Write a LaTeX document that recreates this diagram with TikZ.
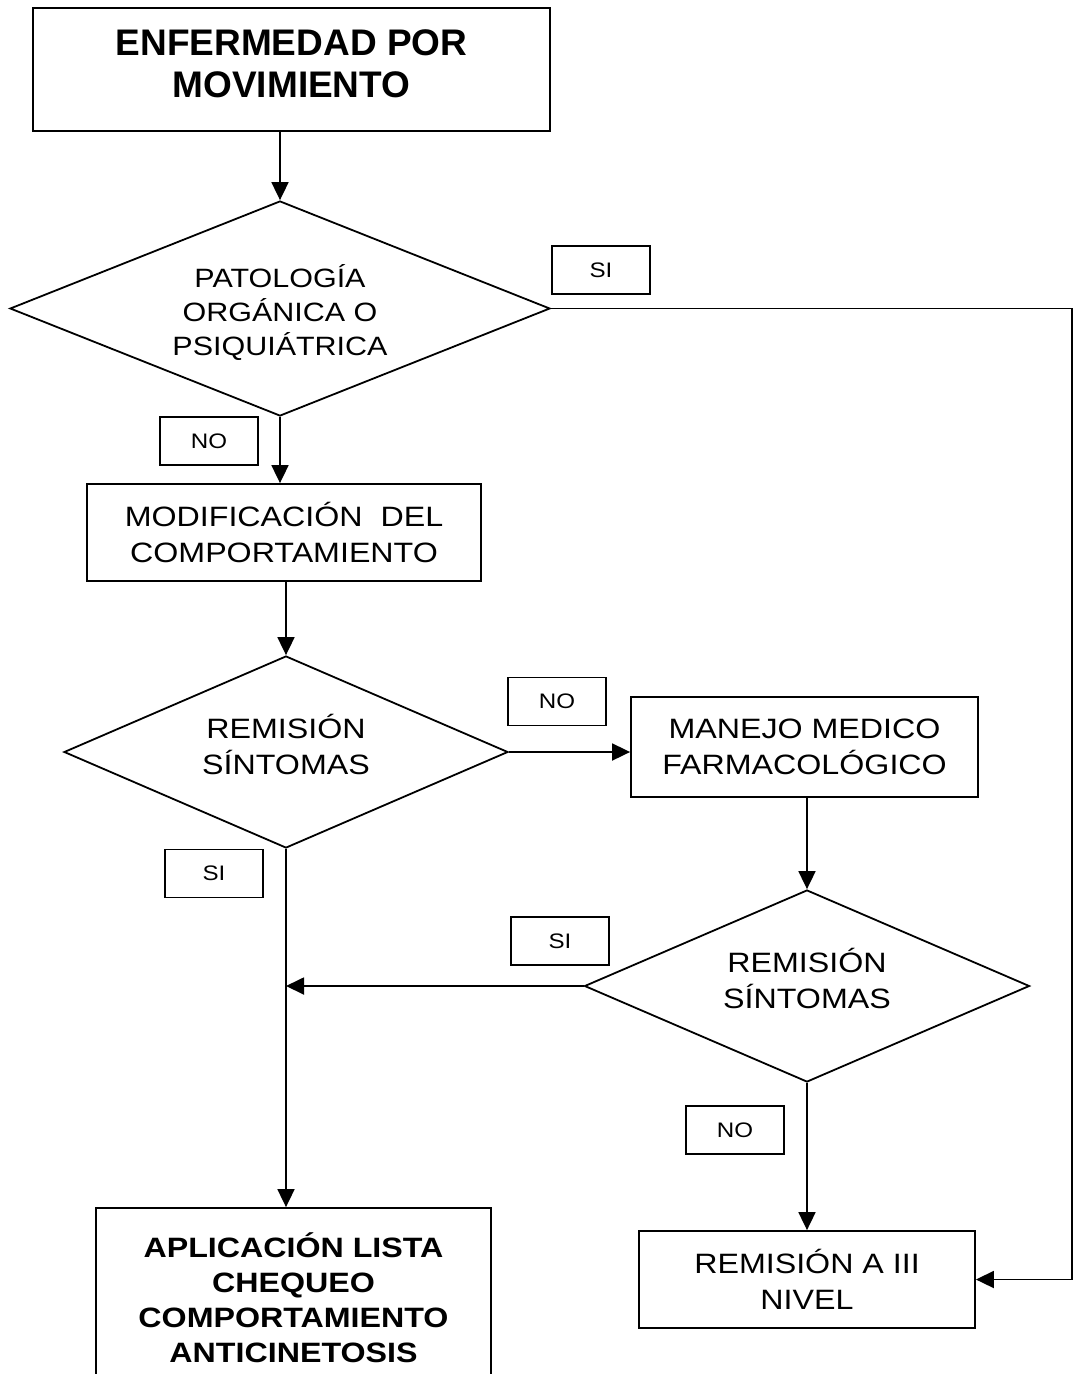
\documentclass[tikz,border=0pt]{standalone}
\usepackage{fontspec}
\setmainfont{Liberation Sans}[FakeStretch=1.15]
\newfontfamily\headfont{Liberation Sans}
\usetikzlibrary{shapes.geometric,arrows.meta}

\tikzset{
  box/.style={draw, line width=1.8pt, rectangle, inner sep=0pt, align=center},
  decision/.style={draw, line width=1.8pt, diamond, aspect=2.3, inner sep=0pt},
  tag/.style={draw, line width=1.5pt, rectangle, inner sep=0pt,
              minimum width=98pt, minimum height=48pt, font=\fontsize{21}{23}\selectfont},
  bigtext/.style={font=\fontsize{28}{36}\selectfont},
  inside/.style={align=center, inner sep=0pt},
  arr/.style={-{Triangle[length=18pt,width=17pt]}, line width=1.8pt}
}

\begin{document}
\begin{tikzpicture}[x=1pt,y=-1pt]
\useasboundingbox (0,0) rectangle (1076,1374);
\clip (0,0) rectangle (1076,1374);

% main blocks
\node[box, minimum width=517pt, minimum height=123pt,
      label={[inside, yshift=6pt, font=\headfont\bfseries\fontsize{37}{42}\selectfont]center:ENFERMEDAD POR\\MOVIMIENTO}]
      (start) at (291.5,69.5) {};

\node[decision, minimum width=540pt, minimum height=215pt,
      label={[inside, yshift=-4pt, font=\fontsize{26.5}{34}\selectfont]center:PATOLOGÍA\\ORGÁNICA O\\PSIQUIÁTRICA}]
      (d1) at (280,308.5) {};

\node[box, bigtext, minimum width=394pt, minimum height=97pt] (b2) at (284,532.5)
      {MODIFICACIÓN\ \ DEL\\COMPORTAMIENTO};

\node[decision, minimum width=444pt, minimum height=192pt,
      label={[inside, bigtext, yshift=8pt]center:REMISIÓN\\SÍNTOMAS}]
      (d2) at (286,752) {};

\node[box, bigtext, minimum width=347pt, minimum height=100pt] (b3) at (804.5,747)
      {MANEJO MEDICO\\FARMACOLÓGICO};

\node[decision, minimum width=445pt, minimum height=192pt,
      label={[inside, bigtext, yshift=8pt]center:REMISIÓN\\SÍNTOMAS}]
      (d3) at (807,986) {};

\node[box, bigtext, minimum width=336pt, minimum height=97pt] (b5) at (807,1279.5)
      {REMISIÓN A III\\NIVEL};

\node[box, minimum width=395pt, minimum height=180pt,
      font=\bfseries\fontsize{28}{35}\selectfont] (b4) at (293.5,1298)
      {APLICACIÓN LISTA\\CHEQUEO\\COMPORTAMIENTO\\ANTICINETOSIS};

% answer tags
\node[tag] (si1) at (601,270) {SI};
\node[tag] (no1) at (209,441) {NO};
\node[tag] (no2) at (557,701.5) {NO};
\node[tag] (si2) at (560,941) {SI};
\node[tag] (si3) at (214,873.5) {SI};
\node[tag] (no3) at (735,1130) {NO};

% connectors
\draw[arr] (d1.north |- start.south) -- (d1.north);
\draw[arr] (d1.south) -- (d1.south |- b2.north);
\draw[arr] (d2.north |- b2.south) -- (d2.north);
\draw[arr] (d2.east) -- (d2.east -| b3.west);
\draw[arr] (d3.north |- b3.south) -- (d3.north);
\draw[arr] (d2.south) -- (d2.south |- b4.north);
\coordinate (join) at (d3.west -| d2.south);
\draw[arr] (d3.west) -- (join);
\draw[arr] (d3.south) -- (d3.south |- b5.north);
\coordinate (rt) at (1072,305);
\draw[arr] (d1.east) -- (d1.east -| rt) -- (rt |- b5.east) -- (b5.east);
\end{tikzpicture}
\end{document}
